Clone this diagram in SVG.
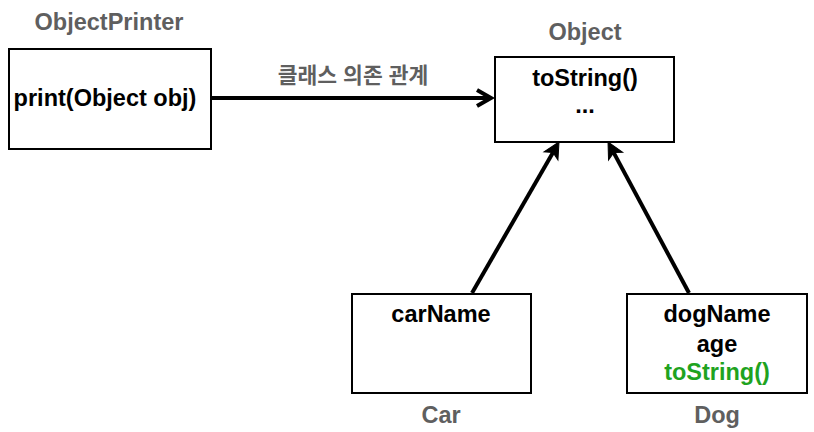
<svg xmlns="http://www.w3.org/2000/svg" width="814" height="432" viewBox="0 0 814 432">
<style>
  .box { fill: #ffffff; stroke: #000000; stroke-width: 2; }
  .t { font-family: "Liberation Sans", Arial, sans-serif; font-weight: bold; font-size: 23.5px; text-anchor: middle; fill: #000000; }
  .title { fill: #5f5f5f; }
  .green { fill: #1fa31f; }
  .kr { font-family: "Liberation Sans", "Noto Sans CJK KR", sans-serif; font-weight: bold; font-size: 21.5px; text-anchor: middle; fill: #5f5f5f; }
  .edge { fill: none; stroke: #000000; stroke-width: 4; }
</style>
<defs>
  <marker id="open" markerUnits="userSpaceOnUse" markerWidth="40" markerHeight="40" refX="0" refY="0" viewBox="-20 -20 40 40" orient="auto" overflow="visible">
    <path d="M-14,-8 L0,0 L-14,8" fill="none" stroke="#000000" stroke-width="4" stroke-linejoin="miter"/>
  </marker>
  <marker id="filled" markerUnits="userSpaceOnUse" markerWidth="40" markerHeight="40" refX="0" refY="0" viewBox="-20 -20 40 40" orient="auto" overflow="visible">
    <path d="M12,0 L-4,-8 L0,0 L-4,8 Z" fill="#000000" stroke="#000000" stroke-width="1"/>
  </marker>
</defs>
<rect width="814" height="432" fill="#ffffff"/>

<g id="connectors">
  <line class="edge" x1="212" y1="98" x2="491" y2="98" marker-end="url(#open)"/>
  <text class="kr" x="353" y="83">클래스 의존 관계</text>
  <line class="edge" x1="472" y1="293" x2="553" y2="152.4" marker-end="url(#filled)"/>
  <line class="edge" x1="689" y1="293" x2="613.7" y2="152.6" marker-end="url(#filled)"/>
</g>

<g id="ObjectPrinter">
  <text class="t title" x="109" y="30">ObjectPrinter</text>
  <rect class="box" x="9" y="49" width="202" height="100"/>
  <text class="t" x="105" y="106">print(Object obj)</text>
</g>

<g id="Object">
  <text class="t title" x="585" y="40">Object</text>
  <rect class="box" x="495" y="57" width="179" height="85"/>
  <text class="t" x="585" y="86">toString()</text>
  <text class="t" x="585" y="113">...</text>
</g>

<g id="Car">
  <rect class="box" x="352" y="294" width="179" height="99"/>
  <text class="t" x="441" y="322">carName</text>
  <text class="t title" x="441" y="423">Car</text>
</g>

<g id="Dog">
  <rect class="box" x="627" y="294" width="180" height="99"/>
  <text class="t" x="717" y="322">dogName</text>
  <text class="t" x="717" y="352">age</text>
  <text class="t green" x="717" y="380">toString()</text>
  <text class="t title" x="717" y="423">Dog</text>
</g>
</svg>
